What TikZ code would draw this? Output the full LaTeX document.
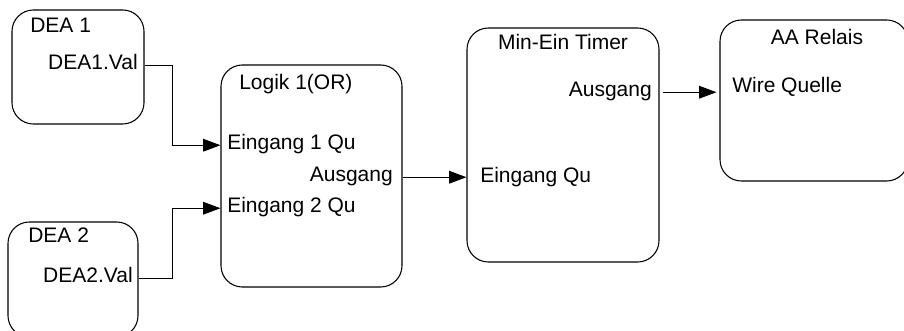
\documentclass[tikz,border=0pt]{standalone}
\usepackage{fontspec}
\setmainfont{Liberation Sans}
\usetikzlibrary{arrows.meta,fit}

\tikzset{
  block/.style={draw, line width=0.8pt, rounded corners=16pt, inner sep=0pt},
  port/.style={inner sep=0pt, text height=0.716em, text depth=0pt},
  wire/.style={line width=0.8pt, -{Triangle[length=13pt,width=9.5pt]}},
}

\begin{document}
\begin{tikzpicture}[x=0.75pt, y=-0.75pt, font=\fontsize{15.75}{19}\selectfont]
    \useasboundingbox (0,0) rectangle (904,331);
    \clip (0,0) rectangle (904,331);

    % Bausteine
    \node[block, fit={(12,10) (144,124)}] (dea1) {};
    \node[block, fit={(8,222) (138,337)}] (dea2) {};
    \node[block, fit={(221,65) (402,287)}] (logik) {};
    \node[block, fit={(467,28) (659,262)}] (timer) {};
    \node[block, fit={(720,20) (908,181)}] (relais) {};

    % Beschriftungen
    \node[port, anchor=base west] (dea1title) at (30,33) {DEA 1};
    \node[port, anchor=base east] (dea1val) at (138,70) {DEA1.Val};
    \node[port, anchor=base west] (dea2title) at (28,243) {DEA 2};
    \node[port, anchor=base east] (dea2val) at (133,283) {DEA2.Val};

    \node[port, anchor=base west] (logiktitle) at (239,90) {Logik 1(OR)};
    \node[port, anchor=base west] (logikin1) at (227,150) {Eingang 1 Qu};
    \node[port, anchor=base east] (logikout) at (393,182) {Ausgang};
    \node[port, anchor=base west] (logikin2) at (227,213) {Eingang 2 Qu};

    \node[port, anchor=base] (timertitle) at (563,50) {Min-Ein Timer};
    \node[port, anchor=base east] (timerout) at (652,97) {Ausgang};
    \node[port, anchor=base west] (timerin) at (480,183) {Eingang Qu};

    \node[port, anchor=base] (relaistitle) at (817,45) {AA Relais};
    \node[port, anchor=base west] (relaisin) at (732,93) {Wire Quelle};

    % Verbindungen
    \draw[wire] (dea1.east |- dea1val) -- ++(28,0) |- (logik.west |- logikin1);
    \draw[wire] (dea2.east |- dea2val) -- ++(34,0) |- (logik.west |- logikin2);
    \draw[wire] (logik.east |- logikout) -- (timer.west |- logikout);
    \draw[wire, shorten <=2.25pt, shorten >=2.25pt] (timer.east |- timerout) -- (relais.west |- timerout);
\end{tikzpicture}
\end{document}
